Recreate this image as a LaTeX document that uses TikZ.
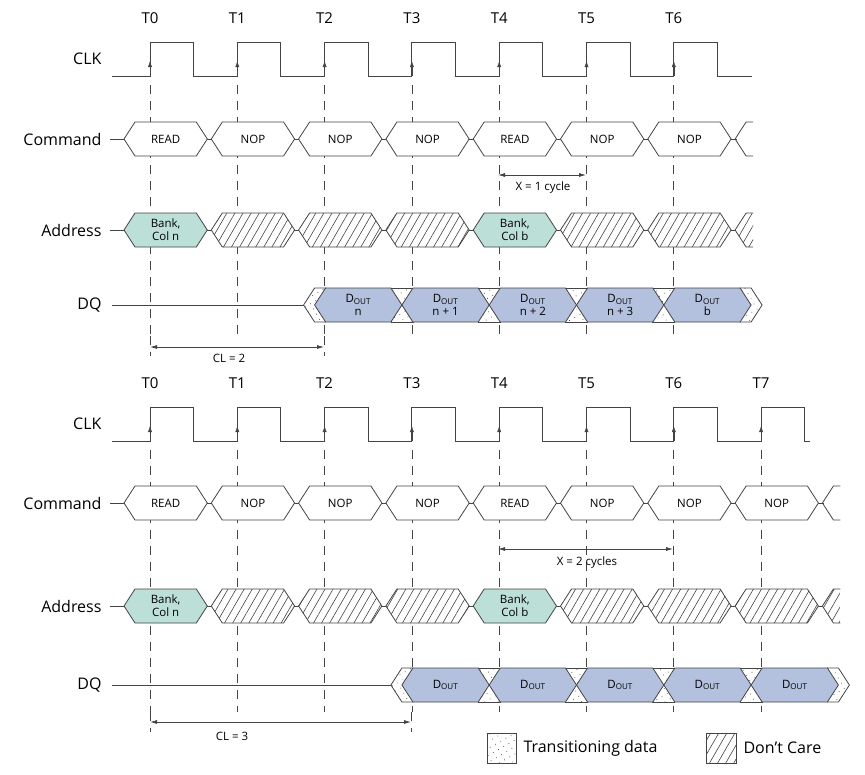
\documentclass[tikz,border=0pt]{standalone}
\usepackage{fontspec}
\setmainfont{Open Sans}
\usetikzlibrary{patterns.meta,arrows.meta}
\definecolor{teal}{HTML}{BCDFD8}
\definecolor{dout}{HTML}{B4C1DE}
\definecolor{ln}{HTML}{444444}
\tikzset{
  sig/.style={draw=ln,line width=0.9pt},
  dsh/.style={draw=ln,line width=0.8pt,dash pattern=on 9pt off 7pt},
  dotf/.style={draw=ln,line width=0.8pt,fill=white,postaction={pattern={Dots[distance=6pt,radius=0.5pt,angle=30]},pattern color=ln}},
  hatch/.style={draw=ln,line width=0.8pt,fill=white,postaction={pattern={Lines[angle=60,distance=7pt,line width=0.6pt]},pattern color=ln}},
  cellw/.style={draw=ln,line width=0.8pt,fill=white},
  cellt/.style={draw=ln,line width=0.8pt,fill=teal},
  celld/.style={draw=ln,line width=0.8pt,fill=dout},
  rowlab/.style={anchor=east,font=\fontsize{16}{18}\selectfont},
  tlab/.style={font=\fontsize{15}{17}\selectfont},
  ctxt/.style={font=\fontsize{11.5}{13}\selectfont,align=center,inner sep=0pt},
  ann/.style={font=\fontsize{11.5}{13}\selectfont},
  dim/.style={draw=ln,line width=0.8pt,{Latex[length=7pt,width=4pt]}-{Latex[length=7pt,width=4pt]}},
}
\newcommand\hexc[4]{\path[#4] (#1,#3)--(#1+11,#3-17)--(#2-11,#3-17)--(#2,#3)--(#2-11,#3+17)--(#1+11,#3+17)--cycle;}
% #1 name prefix, #2 Tlab y, #3 hi, #4 lo, #5 cmd y, #6 addr y, #7 N, #8 clock end, #9 dash end
\newcommand\diag[9]{%
  \pgfmathtruncatemacro\nm{#7-1}
  \foreach \i in {0,...,\nm}{
    \pgfmathsetmacro\t{150+87.3*\i}
    \node[tlab] (#1T\i) at (\t,#2) {T\i};
    \draw[dsh] (\t,#4+9) -- (\t,#9);
  }
  \node[rowlab] (#1clk) at (105,{(#3+#4)/2}) {CLK};
  \node[rowlab] (#1cmd) at (105,#5) {Command};
  \node[rowlab] (#1adr) at (105,#6) {Address};
  \draw[sig] (112,#4) foreach \i in {0,...,\nm}{ -- ({150+87.3*\i},#4) -- ({150+87.3*\i},#3) -- ({193.6+87.3*\i},#3) -- ({193.6+87.3*\i},#4)} -- (#8,#4);
  \foreach \i in {0,...,\nm}{
    \draw[draw=ln,-{Latex[length=6pt,width=4pt]}] ({150+87.3*\i},#4) -- ({150+87.3*\i},{(#3+#4)/2+2});
  }
  \pgfmathsetmacro\bend{122+87.3*#7}
  \draw[sig,line width=0.8pt] (110,#5) -- (\bend+4,#5);
  \draw[sig,line width=0.8pt] (110,#6) -- (\bend+4,#6);
  \foreach \i in {0,...,\nm}{
    \pgfmathsetmacro\L{124+87.3*\i}
    \pgfmathsetmacro\R{207.3+87.3*\i}
    \pgfmathsetmacro\C{(\L+\R)/2}
    \hexc{\L}{\R}{#5}{cellw}
    \pgfmathtruncatemacro\isr{(\i==0)||(\i==4)}
    \node[ctxt] (#1c\i) at (\C,#5) {\ifnum\i=0 READ\else\ifnum\i=4 READ\else NOP\fi\fi};
    \ifnum\isr=1
      \hexc{\L}{\R}{#6}{cellt}
      \node[ctxt] (#1a\i) at (\C,#6) {Bank,\\Col \ifnum\i=0 n\else b\fi};
    \else
      \hexc{\L}{\R}{#6}{hatch}
    \fi
  }
  \path[hatch,draw=none] (\bend+2,#6) -- (\bend+13,#6-17) -- (\bend+20,#6-17) -- (\bend+20,#6+17) -- (\bend+13,#6+17) -- cycle;
  \draw[draw=ln,line width=0.8pt] (\bend+20,#6-17) -- (\bend+13,#6-17) -- (\bend+2,#6) -- (\bend+13,#6+17) -- (\bend+20,#6+17);
  \draw[draw=ln,line width=0.8pt] (\bend+20,#5-17) -- (\bend+13,#5-17) -- (\bend+2,#5) -- (\bend+13,#5+17) -- (\bend+20,#5+17);
}
% DQ: #1 prefix, #2 y, #3 start index, #4 labels
\newcommand\dq[4]{%
  \node[rowlab] (#1dq) at (105,#2) {DQ};
  \pgfmathsetmacro\cz{140+87.3*#3}
  \draw[sig,line width=0.8pt] (112,#2) -- (\cz-11,#2);
  \path[dotf] (\cz-11,#2)--(\cz,#2-17)--(\cz+11,#2-17)--(\cz+11,#2+17)--(\cz,#2+17)--cycle;
  \foreach \k in {1,...,4}{
    \pgfmathsetmacro\c{140+87.3*(#3+\k)}
    \path[dotf] (\c-11,#2-17) rectangle (\c+11,#2+17);
  }
  \pgfmathsetmacro\cf{140+87.3*(#3+5)}
  \path[dotf] (\cf+11,#2)--(\cf,#2-17)--(\cf-11,#2-17)--(\cf-11,#2+17)--(\cf,#2+17)--cycle;
  \foreach \lab [count=\k from 0] in {#4}{
    \pgfmathsetmacro\L{140+87.3*(#3+\k)}
    \pgfmathsetmacro\R{\L+87.3}
    \hexc{\L}{\R}{#2}{celld}
    \node[ctxt] (#1d\k) at ({(\L+\R)/2},#2) {\lab};
  }
}
\begin{document}
\begin{tikzpicture}[x=1pt,y=-1pt]
\useasboundingbox (0,0) rectangle (865,774);
\fill[white] (0,0) rectangle (865,774);
% top
\diag{a}{18}{42}{76}{139}{230}{7}{752}{336}
\dq{a}{305}{2}{{D\textsubscript{OUT}\\n},{D\textsubscript{OUT}\\n + 1},{D\textsubscript{OUT}\\n + 2},{D\textsubscript{OUT}\\n + 3},{D\textsubscript{OUT}\\b}}
\coordinate (aX1) at (498,175); \coordinate (aX2) at (586,175);
\draw[dim] (aX1) -- (aX2);
\node[ann] (aXl) at (543,188) {X = 1 cycle};
\draw[dsh] (150,336) -- (150,356); \draw[dsh] (324,336) -- (324,356);
\coordinate (aC1) at (150,347); \coordinate (aC2) at (324,347);
\draw[dim] (aC1) -- (aC2);
\node[ann] (aCl) at (229,358) {CL = 2};
% bottom
\diag{b}{383}{407}{441}{503}{606}{8}{810}{712}
\dq{b}{685}{3}{D\textsubscript{OUT},D\textsubscript{OUT},D\textsubscript{OUT},D\textsubscript{OUT},D\textsubscript{OUT}}
\coordinate (bX1) at (498,549); \coordinate (bX2) at (673,549);
\draw[dim] (bX1) -- (bX2);
\node[ann] (bXl) at (587,563) {X = 2 cycles};
\draw[dsh] (150,712) -- (150,732); \draw[dsh] (411,712) -- (411,732);
\coordinate (bC1) at (150,722); \coordinate (bC2) at (411,722);
\draw[dim] (bC1) -- (bC2);
\node[ann] (bCl) at (232,736) {CL = 3};
% legend
\path[dotf] (487,733) rectangle (516,763);
\node[anchor=west,font=\fontsize{16}{18}\selectfont] (lg1) at (520,748) {Transitioning data};
\path[hatch] (706,733) rectangle (736,763);
\node[anchor=west,font=\fontsize{16}{18}\selectfont] (lg2) at (740,748) {Don’t Care};
\end{tikzpicture}
\end{document}
